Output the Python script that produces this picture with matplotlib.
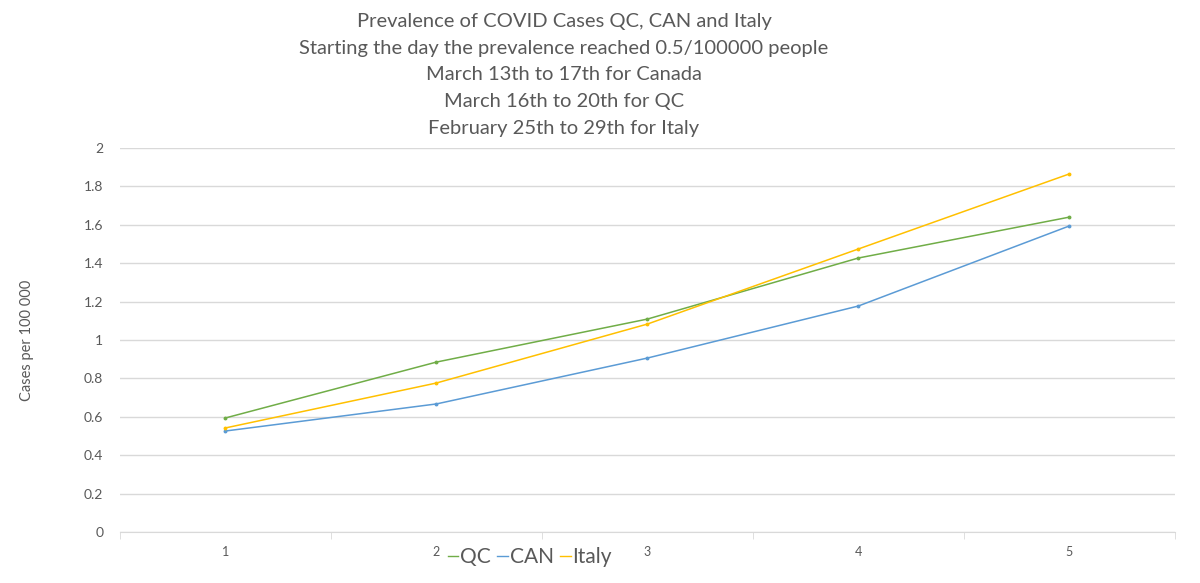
import numpy as np
import matplotlib
matplotlib.use("Agg")
import matplotlib.pyplot as plt

days = [1, 2, 3, 4, 5]
qc = [0.594, 0.885, 1.109, 1.427, 1.640]
can = [0.526, 0.667, 0.906, 1.177, 1.594]
italy = [0.542, 0.776, 1.083, 1.474, 1.865]

title_lines = [
    "Prevalence of COVID Cases QC, CAN and Italy",
    "Starting the day the prevalence reached 0.5/100000 people",
    "March 13th to 17th for Canada",
    "March 16th to 20th for QC",
    "February 25th to 29th for Italy",
]

plt.rcParams['font.family'] = ['Lato', 'DejaVu Sans']
gray = '#595959'

fig = plt.figure(figsize=(12, 5.83), dpi=100)
ax = fig.add_axes([0.1, 1 - 532 / 583, 0.879, 384 / 583])

x = np.arange(len(days))
ax.plot(x, qc, color='#70AD47', lw=1.1, marker='o', ms=1.8, label='QC')
ax.plot(x, can, color='#5B9BD5', lw=1.1, marker='o', ms=1.8, label='CAN')
ax.plot(x, italy, color='#FFC000', lw=1.1, marker='o', ms=1.8, label='Italy')

ax.set_xlim(-0.5, len(days) - 0.5)
ax.set_ylim(0, 2)
ax.set_yticks(np.arange(0, 2.01, 0.2))
ax.set_yticklabels(['0', '0.2', '0.4', '0.6', '0.8', '1', '1.2', '1.4', '1.6', '1.8', '2'])
ax.set_xticks(x)
ax.set_xticklabels([str(d) for d in days])
ax.set_xticks(np.arange(-0.5, len(days)), minor=True)
ax.tick_params(axis='x', which='major', length=0, pad=10, labelsize=9, colors=gray)
ax.tick_params(axis='x', which='minor', length=5, color='#D9D9D9', direction='out')
ax.tick_params(axis='y', length=0, pad=12, labelsize=10, colors=gray)

ax.grid(axis='y', color='#D9D9D9', lw=1)
ax.set_axisbelow(True)
for s in ['top', 'right', 'left']:
    ax.spines[s].set_visible(False)
ax.spines['bottom'].set_color('#D9D9D9')

ax.set_ylabel('Cases per 100 000', fontsize=10.5, color=gray, labelpad=36)

for i, line in enumerate(title_lines):
    fig.text(0.47, 1 - (22 + 26.5 * i) / 583, line, ha='center', va='center',
             fontsize=14.5, color=gray)

leg = fig.legend(loc='center', bbox_to_anchor=(530 / 1200, 1 - 557 / 583), ncol=3,
                 frameon=False, fontsize=15, handlelength=0.5, handletextpad=0.1,
                 columnspacing=0.3, labelcolor=gray)
for h in leg.legend_handles:
    h.set_marker('')
    h.set_linewidth(1.0)

fig.savefig('out.png', dpi=100)
